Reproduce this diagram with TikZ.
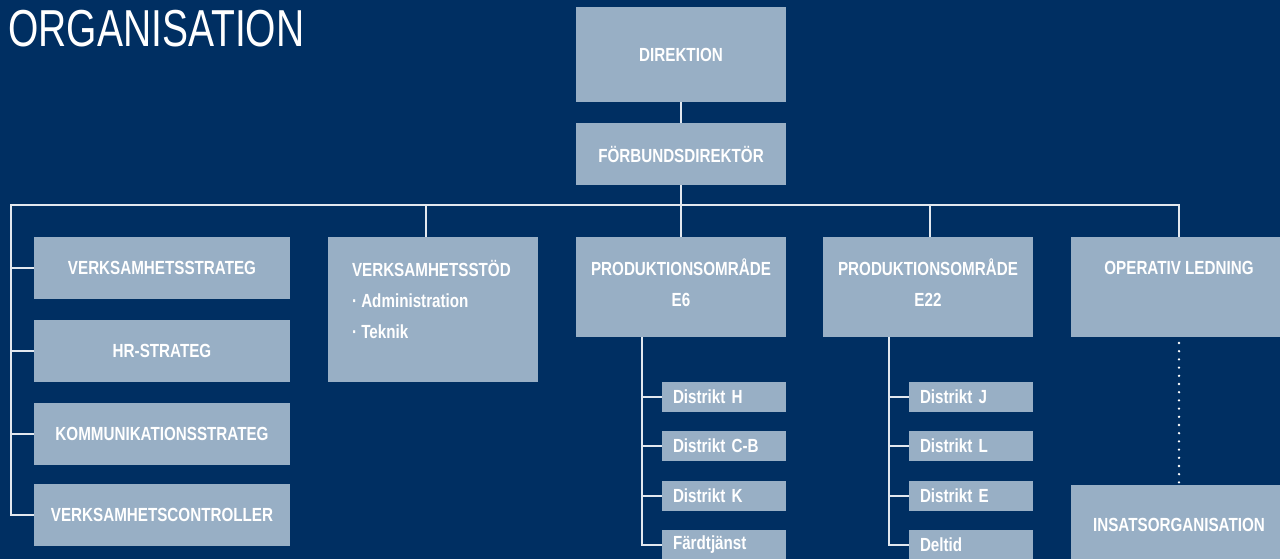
\documentclass[tikz,border=0pt]{standalone}
\usepackage{fontspec}
\setmainfont{Liberation Sans}
\newfontfamily\boxfont[FakeStretch=0.8]{Liberation Sans}
\newfontfamily\titlefont[FakeStretch=0.75]{Liberation Sans}
\definecolor{navy}{HTML}{002F62}
\definecolor{boxblue}{HTML}{98AFC5}
\definecolor{linegray}{HTML}{E2E8EF}

\begin{document}
\begin{tikzpicture}[x=1pt, y=-1pt,
    txt/.style={text=white, font=\boxfont\bfseries\fontsize{19}{31}\selectfont, inner sep=0pt, outer sep=0pt},
    box/.style={txt, fill=boxblue, anchor=north west, align=center},
    dist/.style={box, minimum width=124, minimum height=30, text width=102, inner xsep=11, align=left},
    conn/.style={draw=linegray, line width=1.3pt},
    dotline/.style={draw=white, line width=2.6pt, line cap=round, dash pattern=on 0pt off 8.2pt}]
    \useasboundingbox (0,0) rectangle (1280,559);
    \fill[navy] (0,0) rectangle (1280,559);
    \clip (0,0) rectangle (1280,559);

    \node[text=white, font=\titlefont\fontsize{52}{52}\selectfont, anchor=base west, inner sep=0pt] (title) at (8,47) {ORGANISATION};

    \node[box, minimum width=210, minimum height=95] (dir) at (576,7) {DIREKTION};
    \node[box, minimum width=210, minimum height=62] (fd) at (576,123) {FÖRBUNDSDIREKTÖR};

    \node[box, minimum width=256, minimum height=62] (vs) at (34,237) {VERKSAMHETSSTRATEG};
    \node[box, minimum width=256, minimum height=62] (hr) at (34,320) {HR-STRATEG};
    \node[box, minimum width=256, minimum height=62] (kom) at (34,403) {KOMMUNIKATIONSSTRATEG};
    \node[box, minimum width=256, minimum height=62] (ctrl) at (34,484) {VERKSAMHETSCONTROLLER};

    \node[box, minimum width=210, minimum height=145] (stod) at (328,237) {};
    \node[txt, anchor=base west, align=left] (stodtxt) at (352,338) {VERKSAMHETSSTÖD\\· Administration\\· Teknik};

    \node[box, minimum width=210, minimum height=100] (e6) at (576,237) {};
    \node[txt, anchor=base, align=center] (e6txt) at (681,306) {PRODUKTIONSOMRÅDE\\E6};
    \node[box, minimum width=210, minimum height=100] (e22) at (823,237) {};
    \node[txt, anchor=base, align=center] (e22txt) at (928,306) {PRODUKTIONSOMRÅDE\\E22};

    \node[box, minimum width=216, minimum height=100] (op) at (1071,237) {};
    \node[txt, anchor=base] (optxt) at (1179,274) {OPERATIV LEDNING};
    \node[box, minimum width=216, minimum height=80] (ins) at (1071,485) {INSATSORGANISATION};

    \node[dist] (e6d1) at (662,382) {Distrikt H};
    \node[dist] (e6d2) at (662,431) {Distrikt C-B};
    \node[dist] (e6d3) at (662,481) {Distrikt K};
    \node[dist] (e6d4) at (662,530) {Färdtjänst};

    \node[dist] (e22d1) at (909,382) {Distrikt J};
    \node[dist] (e22d2) at (909,431) {Distrikt L};
    \node[dist] (e22d3) at (909,481) {Distrikt E};
    \node[dist] (e22d4) at (909,530) {Deltid};

    % ledning
    \coordinate (bl) at (11,205);
    \coordinate (br) at (1179,205);
    \draw[conn] (dir) -- (fd);
    \draw[conn] (fd) -- (fd |- bl);
    \draw[conn] (ctrl.west) -| (bl) -- (br) -- (op.north);
    \draw[conn] (vs) -- (vs -| bl);
    \draw[conn] (hr) -- (hr -| bl);
    \draw[conn] (kom) -- (kom -| bl);
    \draw[conn] ([xshift=-7]stod.north) -- ([xshift=-7]stod.north |- bl);
    \draw[conn] (e6) -- (e6 |- bl);
    \draw[conn] ([xshift=2]e22.north) -- ([xshift=2]e22.north |- bl);
    \draw[dotline] ([yshift=-6]op.south) -- (ins.north);

    % distrikt
    \coordinate (e6v) at ([xshift=66]e6.south west);
    \draw[conn] (e6v) |- (e6d4.west);
    \draw[conn] (e6d1) -- (e6d1 -| e6v);
    \draw[conn] (e6d2) -- (e6d2 -| e6v);
    \draw[conn] (e6d3) -- (e6d3 -| e6v);

    \coordinate (e22v) at ([xshift=66]e22.south west);
    \draw[conn] (e22v) |- (e22d4.west);
    \draw[conn] (e22d1) -- (e22d1 -| e22v);
    \draw[conn] (e22d2) -- (e22d2 -| e22v);
    \draw[conn] (e22d3) -- (e22d3 -| e22v);
\end{tikzpicture}
\end{document}
